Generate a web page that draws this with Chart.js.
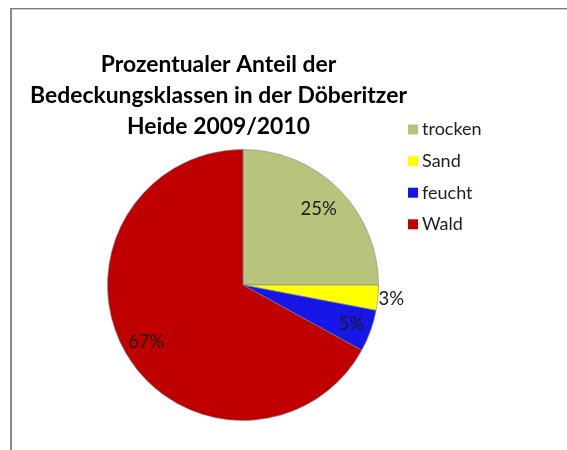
<!DOCTYPE html>
<html>
<head>
<meta charset="utf-8">
<script src="https://cdn.jsdelivr.net/npm/chart.js@4/dist/chart.umd.min.js"></script>
<style>
  html, body { margin: 0; padding: 0; background: #fff; }
  #wrap { position: relative; width: 567px; height: 450px; overflow: hidden; }
  #frame {
    position: absolute; left: 10px; top: 8px; width: 555px; height: 480px;
    border-top: 1px solid #7c7c7c; border-left: 2px solid #8a8a8a; border-right: 1px solid #e2e2e2;
    box-shadow: inset 0 1px 0 #cfcfcf;
  }
  canvas { position: absolute; left: 0; top: 0; }
</style>
</head>
<body>
<div id="wrap">
  <div id="frame"></div>
  <canvas id="c" width="567" height="450"></canvas>
</div>
<script>
// Cover classes of the Döberitzer Heide, share in percent
const categories = ['trocken', 'Sand', 'feucht', 'Wald'];
const shares = [25, 3, 5, 67];
const sliceColors = ['#B7C47C', '#FFFF00', '#1616E8', '#C00000'];
const titleLines = ['Prozentualer Anteil der', 'Bedeckungsklassen in der Döberitzer', 'Heide 2009/2010'];

// label distance from the centre, as a fraction of the radius
const labelRadius = [0.79, 1.10, 0.85, 0.83];

const textPlugin = {
  id: 'textPlugin',
  afterDatasetsDraw(chart) {
    const ctx = chart.ctx;
    ctx.save();

    // title, sized so the longest line spans its box
    ctx.fillStyle = '#000';
    ctx.textAlign = 'center';
    ctx.textBaseline = 'alphabetic';
    ctx.font = 'bold 20px Lato';
    const target = 377;
    const w = ctx.measureText(titleLines[1]).width;
    const size = 20 * target / w;
    ctx.font = 'bold ' + size.toFixed(2) + 'px Lato';
    const baselines = [72, 103, 134];
    titleLines.forEach((t, i) => ctx.fillText(t, 218.5, baselines[i]));

    // legend
    ctx.textAlign = 'left';
    ctx.textBaseline = 'middle';
    ctx.font = '18px Lato';
    categories.forEach((name, i) => {
      const cy = 129 + i * 31.6;
      ctx.fillStyle = sliceColors[i];
      ctx.fillRect(408, cy - 4.5, 10, 10);
      ctx.fillStyle = '#1e1e1e';
      ctx.fillText(name, 422, cy + 0.5);
    });

    // value labels
    const meta = chart.getDatasetMeta(0);
    ctx.textAlign = 'center';
    ctx.font = '18.5px Lato';
    ctx.fillStyle = '#1a1a1a';
    meta.data.forEach((arc, i) => {
      const p = arc.getProps(['x', 'y', 'startAngle', 'endAngle', 'outerRadius'], true);
      const mid = (p.startAngle + p.endAngle) / 2;
      const r = p.outerRadius * labelRadius[i];
      ctx.fillText(shares[i] + '%', p.x + Math.cos(mid) * r, p.y + Math.sin(mid) * r);
    });
    ctx.restore();
  }
};

new Chart(document.getElementById('c'), {
  type: 'pie',
  data: {
    labels: categories,
    datasets: [{
      data: shares,
      backgroundColor: sliceColors,
      borderColor: 'rgba(120,135,150,0.6)',
      borderWidth: 1,
      hoverBorderWidth: 1,
      hoverOffset: 0
    }]
  },
  options: {
    responsive: false,
    animation: false,
    events: [],
    layout: { padding: { left: 107, top: 149, right: 188, bottom: 29 } },
    plugins: {
      legend: { display: false },
      title: { display: false },
      tooltip: { enabled: false }
    }
  },
  plugins: [textPlugin]
});
</script>
</body>
</html>
